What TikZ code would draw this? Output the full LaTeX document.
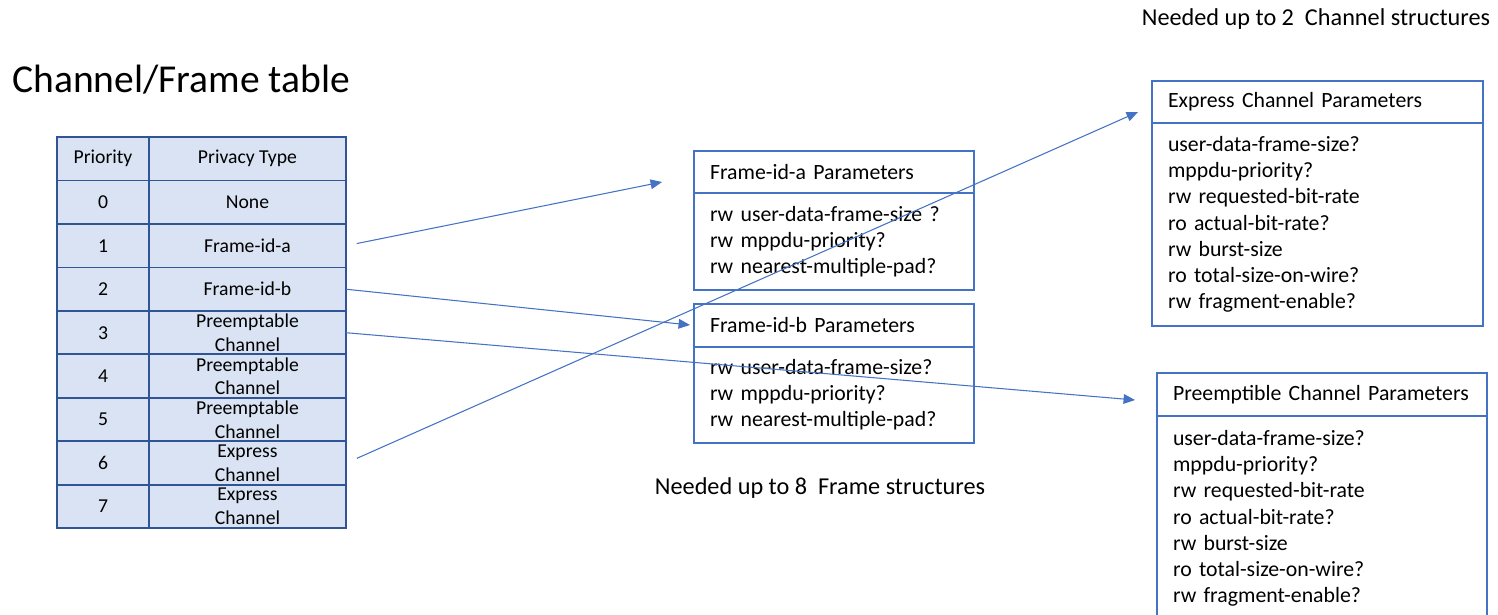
\documentclass[tikz,border=0pt]{standalone}
\usepackage{fontspec}
\setmainfont{Carlito}
\usetikzlibrary{positioning}
\usetikzlibrary{arrows.meta}
\definecolor{tblfill}{HTML}{DAE3F3}
\definecolor{tblline}{HTML}{2F5597}
\definecolor{boxline}{HTML}{4472C4}
\tikzset{
  cell/.style={draw=tblline,line width=1.1pt,fill=tblfill,outer sep=0pt,inner sep=0pt,minimum height=0.87cm,align=center,font=\fontsize{11.2}{13.6}\selectfont},
  pcell/.style={cell,minimum width=1.84cm},
  tcell/.style={cell,minimum width=3.94cm},
  parhead/.style={draw=boxline,line width=0.8pt,fill=white,outer sep=0pt,inner xsep=0.32cm,inner ysep=0pt,align=left,font=\fontsize{12.4}{14.9}\selectfont},
  parbody/.style={parhead},
  link/.style={draw=boxline,line width=0.6pt,-{Triangle[length=6.5pt,width=5.5pt]}}
}
\begin{document}
\begin{tikzpicture}[x=0.02cm,y=-0.02cm]
\clip (0,0) rectangle (1498,615);
\fill[white] (0,0) rectangle (1498,615);

\node[font=\fontsize{22.5}{27}\selectfont,inner sep=0pt,anchor=west] (title) at (12,80) {Channel/Frame table};
\node[font=\fontsize{13.8}{16}\selectfont,inner sep=0pt] (channeed) at (1316,19) {Needed up to 2\ \ Channel structures};
\node[font=\fontsize{13.8}{16}\selectfont,inner sep=0pt] (frameneed) at (820,488) {Needed up to 8\ \ Frame structures};

% priority table
\node[pcell] (hp) at (103,158.75) {Priority};
\node[tcell,right=0pt of hp] (ht) {Privacy Type};
\node[pcell,below=0pt of hp] (p0) {0};
\node[tcell,right=0pt of p0] (t0) {None};
\node[pcell,below=0pt of p0] (p1) {1};
\node[tcell,right=0pt of p1] (t1) {Frame-id-a};
\node[pcell,below=0pt of p1] (p2) {2};
\node[tcell,right=0pt of p2] (t2) {Frame-id-b};
\node[pcell,below=0pt of p2] (p3) {3};
\node[tcell,right=0pt of p3] (t3) {Preemptable\\Channel};
\node[pcell,below=0pt of p3] (p4) {4};
\node[tcell,right=0pt of p4] (t4) {Preemptable\\Channel};
\node[pcell,below=0pt of p4] (p5) {5};
\node[tcell,right=0pt of p5] (t5) {Preemptable\\Channel};
\node[pcell,below=0pt of p5] (p6) {6};
\node[tcell,right=0pt of p6] (t6) {Express\\Channel};
\node[pcell,below=0pt of p6] (p7) {7};
\node[tcell,right=0pt of p7] (t7) {Express\\Channel};

% frame parameter boxes
\node[parhead,text width=4.96cm,minimum height=0.84cm] (fa) at (834,172) {Frame-id-a Parameters};
\node[parbody,text width=4.96cm,minimum height=1.94cm,below=0pt of fa] (fab) {rw user-data-frame-size ?\\rw mppdu-priority?\\rw nearest-multiple-pad?};
\node[parhead,text width=4.96cm,minimum height=0.86cm] (fb) at (834,325.5) {Frame-id-b Parameters};
\node[parbody,text width=4.96cm,minimum height=1.92cm,below=0pt of fb] (fbb) {rw user-data-frame-size?\\rw mppdu-priority?\\rw nearest-multiple-pad?};

% channel parameter boxes
\node[parhead,text width=5.98cm,minimum height=0.84cm] (ex) at (1317.5,102) {Express Channel Parameters};
\node[parbody,text width=5.98cm,minimum height=4.06cm,below=0pt of ex] (exb) {user-data-frame-size?\\mppdu-priority?\\rw requested-bit-rate\\ro actual-bit-rate?\\rw burst-size\\ro total-size-on-wire?\\rw fragment-enable?};
\node[parhead,text width=5.96cm,minimum height=0.86cm] (pr) at (1322,394.5) {Preemptible Channel Parameters};
\node[parbody,text width=5.96cm,minimum height=4.1cm,below=0pt of pr] (prb) {user-data-frame-size?\\mppdu-priority?\\rw requested-bit-rate\\ro actual-bit-rate?\\rw burst-size\\ro total-size-on-wire?\\rw fragment-enable?};

\coordinate (toa) at (662,182);
\coordinate (tob) at (690,325);
\coordinate (topr) at (1135,400);
\coordinate (toex) at (1138,112);
\draw[link,shorten <=0.22cm] (t1.east) -- (toa);
\draw[link] (t2.east) -- (tob);
\draw[link] (t3.east) -- (topr);
\draw[link,shorten <=0.24cm] (t6.east) -- (toex);

\end{tikzpicture}
\end{document}
